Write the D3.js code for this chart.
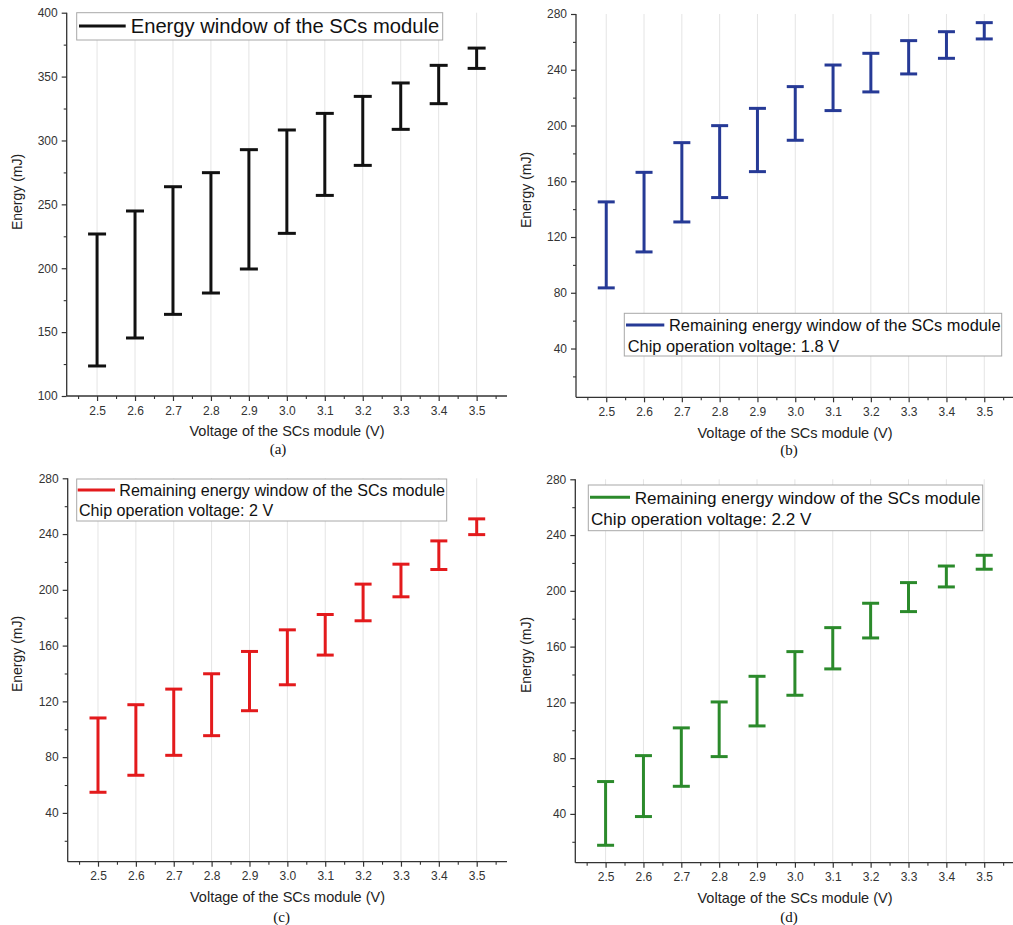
<!DOCTYPE html>
<html><head><meta charset="utf-8">
<script src="https://cdn.jsdelivr.net/npm/d3@7"></script>
<style>body{margin:0;background:#fff} svg{display:block}</style>
</head><body>
<svg id="chart" width="1013" height="925"></svg>
<script>
// ---------- data ----------
const voltages = [2.5, 2.6, 2.7, 2.8, 2.9, 3.0, 3.1, 3.2, 3.3, 3.4, 3.5];
const xTickLabels = ["2.5","2.6","2.7","2.8","2.9","3.0","3.1","3.2","3.3","3.4","3.5"];
const xMinorTicks = [2.45, 2.55, 2.65, 2.75, 2.85, 2.95, 3.05, 3.15, 3.25, 3.35, 3.45, 3.55];

// (a) energy window of the SCs module
const aLow  = [123.5, 145.4, 163.9, 180.6, 199.4, 227.3, 257.0, 280.5, 308.7, 328.8, 356.4];
const aHigh = [226.8, 244.8, 263.8, 274.8, 292.8, 308.2, 321.2, 334.5, 345.0, 358.8, 372.3];
// (b) chip operation voltage 1.8 V
const bLow  = [83.5, 109.3, 130.8, 148.3, 166.9, 189.4, 210.7, 224.1, 237.0, 248.2, 262.1];
const bHigh = [145.2, 166.4, 187.7, 199.9, 212.3, 227.9, 243.4, 251.8, 260.9, 267.3, 273.8];
// (c) chip operation voltage 2 V
const cLow  = [54.8, 67.0, 81.3, 95.4, 113.3, 131.9, 153.2, 177.8, 195.0, 214.6, 239.6];
const cHigh = [108.1, 117.6, 128.8, 139.8, 155.8, 171.3, 182.3, 204.1, 218.4, 235.1, 250.9];
// (d) chip operation voltage 2.2 V
const dLow  = [17.5, 38.1, 59.8, 81.1, 103.1, 125.1, 144.0, 166.2, 185.1, 202.8, 215.5];
const dHigh = [63.2, 81.8, 101.7, 120.3, 138.7, 156.4, 173.6, 191.1, 205.9, 217.8, 225.5];

const aYTicks = [100, 150, 200, 250, 300, 350, 400];
const aYMinor = [125, 175, 225, 275, 325, 375];
const bcdYTicks = [40, 80, 120, 160, 200, 240, 280];
const bcdYMinor = [20, 60, 100, 140, 180, 220, 260];

const legendA = ["Energy window of the SCs module"];
const legendB = ["Remaining energy window of the SCs module", "Chip operation voltage: 1.8 V"];
const legendC = ["Remaining energy window of the SCs module", "Chip operation voltage: 2 V"];
const legendD = ["Remaining energy window of the SCs module", "Chip operation voltage: 2.2 V"];
const captions = ["(a)", "(b)", "(c)", "(d)"];
const xTitle = "Voltage of the SCs module (V)";
const yTitle = "Energy (mJ)";

// ---------- layout ----------
const panels = [
  {low:aLow, high:aHigh, color:"#111111", yDomain:[100,400], yTicks:aYTicks, yMinor:aYMinor,
   left:66.7, right:507, top:12.7, bottom:396, capW:18, legend:legendA, caption:captions[0],
   lg:{x:76.7, y:12.7, w:366, h:27.3, fs:20.2, lx1:79, lx2:125.7, ly:26, tx:130.7, b1:33},
   ylab:{x:17, y:192}, xlab:{x:287, y:436}, cap:{x:278, y:454}},
  {low:bLow, high:bHigh, color:"#263a96", yDomain:[5,280], yTicks:bcdYTicks, yMinor:bcdYMinor,
   left:576, right:1014.5, top:14, bottom:397.3, capW:17, legend:legendB, caption:captions[1],
   lg:{x:624.3, y:313.3, w:377.4, h:42.7, fs:16.4, lx1:626, lx2:664.3, ly:325, tx:669, b1:330.7, t2x:627.7, b2:351.7},
   ylab:{x:526, y:190}, xlab:{x:795, y:437.5}, cap:{x:789, y:455}},
  {low:cLow, high:cHigh, color:"#e31a1c", yDomain:[5,280], yTicks:bcdYTicks, yMinor:bcdYMinor,
   left:67.7, right:507, top:478.3, bottom:861.7, capW:17, legend:legendC, caption:captions[2],
   lg:{x:76.7, y:479, w:370, h:42, fs:16.1, lx1:77.7, lx2:115, ly:490, tx:119.3, b1:496, t2x:79, b2:516},
   ylab:{x:17, y:654}, xlab:{x:287.5, y:901.5}, cap:{x:281.7, y:921.5}},
  {low:dLow, high:dHigh, color:"#2b8a2b", yDomain:[5,280], yTicks:bcdYTicks, yMinor:bcdYMinor,
   left:575.3, right:1014.5, top:479.3, bottom:862.7, capW:17, legend:legendD, caption:captions[3],
   lg:{x:588.3, y:485, w:394.4, h:45.7, fs:17.1, lx1:590, lx2:630, ly:497.3, tx:634.7, b1:503.5, t2x:591, b2:525},
   ylab:{x:526, y:655}, xlab:{x:795, y:903}, cap:{x:789, y:921.5}}
];

const svg = d3.select("#chart");
const SANS = "'Liberation Sans', Arial, Helvetica, sans-serif";
const SERIF = "'Liberation Serif', 'Times New Roman', serif";
const axisColor = "#333";

panels.forEach(p => {
  const x = d3.scaleLinear().domain([2.42, 3.58]).range([p.left, p.right]);
  const y = d3.scaleLinear().domain(p.yDomain).range([p.bottom, p.top]);
  const g = svg.append("g");

  // vertical grid lines
  g.selectAll("line.grid").data(voltages).join("line")
    .attr("x1", d => x(d)).attr("x2", d => x(d))
    .attr("y1", p.bottom).attr("y2", p.top)
    .attr("stroke", "#e4e4e4").attr("stroke-width", 1);

  // x axis
  const xAxis = d3.axisBottom(x).tickValues(voltages)
    .tickFormat((d, i) => xTickLabels[i]).tickSize(5).tickPadding(5);
  const gx = g.append("g").attr("transform", `translate(0,${p.bottom})`).call(xAxis);
  gx.select(".domain").attr("stroke", axisColor).attr("stroke-width", 1.3)
    .attr("d", `M${p.left},0H${p.right}`);
  gx.selectAll(".tick line").attr("stroke", axisColor).attr("stroke-width", 1.2);
  gx.selectAll(".tick text").attr("fill", "#333").style("font-family", SANS).style("font-size", "12px");
  const gxm = g.append("g").attr("transform", `translate(0,${p.bottom})`)
    .call(d3.axisBottom(x).tickValues(xMinorTicks).tickSize(3).tickFormat(""));
  gxm.select(".domain").remove();
  gxm.selectAll(".tick line").attr("stroke", axisColor).attr("stroke-width", 1.1);

  // y axis
  const yAxis = d3.axisLeft(y).tickValues(p.yTicks).tickSize(5).tickPadding(4);
  const gy = g.append("g").attr("transform", `translate(${p.left},0)`).call(yAxis);
  gy.select(".domain").attr("stroke", axisColor).attr("stroke-width", 1.3)
    .attr("d", `M0,${p.top}V${p.bottom}`);
  gy.selectAll(".tick line").attr("stroke", axisColor).attr("stroke-width", 1.2);
  gy.selectAll(".tick text").attr("fill", "#333").style("font-family", SANS).style("font-size", "12px");
  const gym = g.append("g").attr("transform", `translate(${p.left},0)`)
    .call(d3.axisLeft(y).tickValues(p.yMinor).tickSize(3).tickFormat(""));
  gym.select(".domain").remove();
  gym.selectAll(".tick line").attr("stroke", axisColor).attr("stroke-width", 1.1);

  // error bars (energy windows)
  const rows = voltages.map((v, i) => ({v, lo: p.low[i], hi: p.high[i]}));
  const bars = g.append("g").attr("stroke", p.color).attr("stroke-width", 3).attr("fill", "none");
  bars.selectAll("line.v").data(rows).join("line")
    .attr("x1", d => x(d.v)).attr("x2", d => x(d.v))
    .attr("y1", d => y(d.lo)).attr("y2", d => y(d.hi));
  bars.selectAll("line.t").data(rows).join("line")
    .attr("x1", d => x(d.v) - p.capW / 2).attr("x2", d => x(d.v) + p.capW / 2)
    .attr("y1", d => y(d.hi)).attr("y2", d => y(d.hi));
  bars.selectAll("line.b").data(rows).join("line")
    .attr("x1", d => x(d.v) - p.capW / 2).attr("x2", d => x(d.v) + p.capW / 2)
    .attr("y1", d => y(d.lo)).attr("y2", d => y(d.lo));

  // legend
  const L = p.lg;
  g.append("rect").attr("x", L.x).attr("y", L.y).attr("width", L.w).attr("height", L.h)
    .attr("fill", "#fff").attr("stroke", "#a8a8a8").attr("stroke-width", 1);
  g.append("line").attr("x1", L.lx1).attr("x2", L.lx2).attr("y1", L.ly).attr("y2", L.ly)
    .attr("stroke", p.color).attr("stroke-width", 3);
  g.append("text").attr("x", L.tx).attr("y", L.b1).text(p.legend[0])
    .attr("fill", "#111").style("font-family", SANS).style("font-size", L.fs + "px");
  if (p.legend.length > 1) {
    g.append("text").attr("x", L.t2x).attr("y", L.b2).text(p.legend[1])
      .attr("fill", "#111").style("font-family", SANS).style("font-size", L.fs + "px");
  }

  // axis titles
  g.append("text").attr("transform", `translate(${p.ylab.x},${p.ylab.y}) rotate(-90)`)
    .attr("text-anchor", "middle").attr("dy", "0.35em").text(yTitle)
    .attr("fill", "#222").style("font-family", SANS).style("font-size", "14px");
  g.append("text").attr("x", p.xlab.x).attr("y", p.xlab.y).attr("text-anchor", "middle")
    .text(xTitle).attr("fill", "#222").style("font-family", SANS).style("font-size", "14.5px");
  g.append("text").attr("x", p.cap.x).attr("y", p.cap.y).attr("text-anchor", "middle")
    .text(p.caption).attr("fill", "#111").style("font-family", SERIF).style("font-size", "15px");
});
</script>
</body></html>
